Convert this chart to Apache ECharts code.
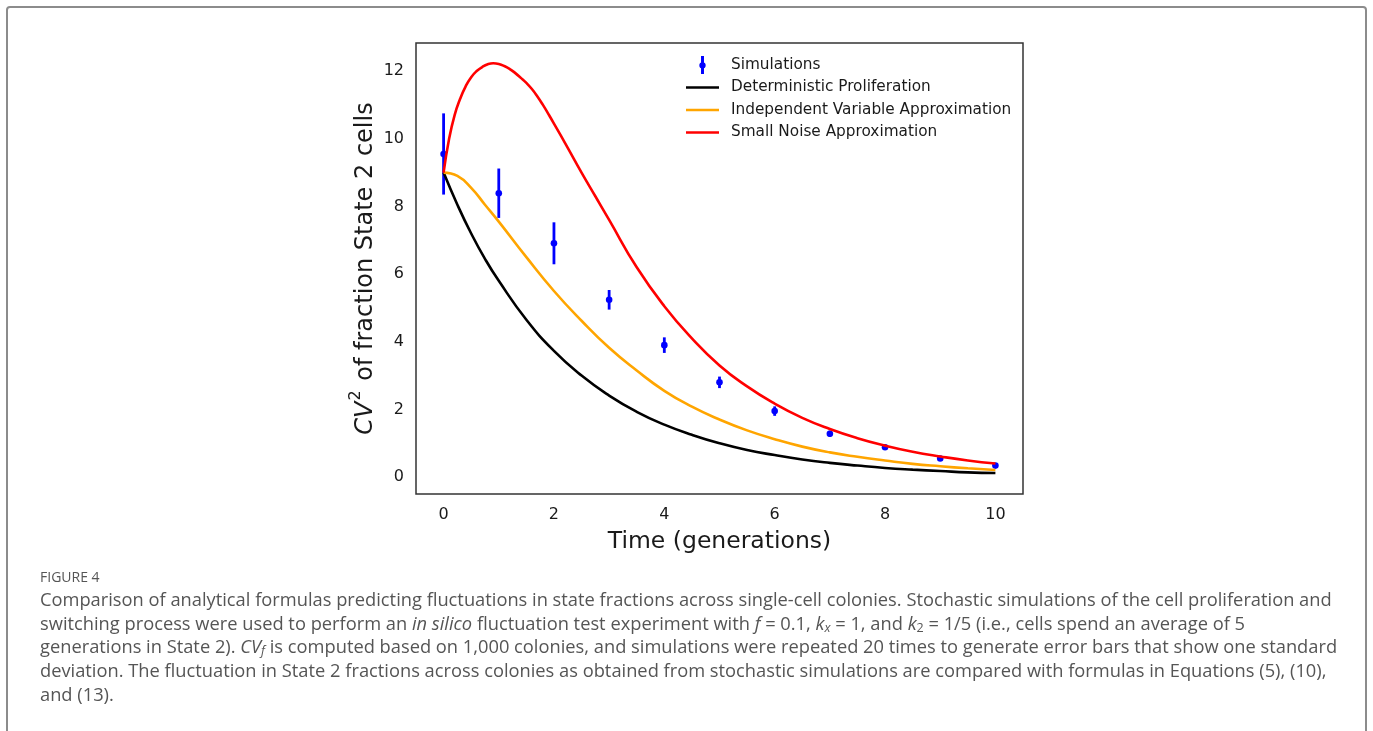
<!DOCTYPE html>
<html>
<head>
<meta charset="utf-8">
<script src="https://cdn.jsdelivr.net/npm/echarts@6/dist/echarts.min.js"></script>
<style>
html,body{margin:0;padding:0;background:#fff;}
#main{width:1373px;height:731px;}
</style>
</head>
<body>
<div id="main"></div>
<script>
// ---- data ----
const xSim = [0, 1, 2, 3, 4, 5, 6, 7, 8, 9, 10];
const ySim = [9.55, 8.39, 6.91, 5.24, 3.90, 2.80, 1.95, 1.28, 0.88, 0.55, 0.34];
const errSim = [1.2, 0.73, 0.62, 0.29, 0.23, 0.17, 0.14, 0.09, 0.06, 0.04, 0.03];

const tCurve = [0, 0.25, 0.5, 0.75, 1, 1.5, 2, 2.5, 3, 3.5, 4, 4.5, 5, 5.5, 6, 6.5, 7, 7.5, 8, 8.5, 9, 9.5, 10];
const yDet = [9.0, 8.05, 7.2, 6.45, 5.8, 4.65, 3.73, 3.0, 2.41, 1.93, 1.55, 1.25, 1.0, 0.8, 0.65, 0.52, 0.42, 0.34, 0.27, 0.22, 0.18, 0.14, 0.12];
const yIndep = [9.0, 8.9, 8.55, 8.05, 7.55, 6.5, 5.5, 4.62, 3.82, 3.15, 2.55, 2.08, 1.7, 1.38, 1.12, 0.9, 0.73, 0.6, 0.49, 0.39, 0.32, 0.26, 0.21];

const tRed = [0, 0.1, 0.2, 0.3, 0.4, 0.5, 0.6, 0.7, 0.8, 0.9, 1.0, 1.1, 1.2, 1.3, 1.4, 1.5, 1.6, 1.7, 1.8, 1.9, 2, 2.25, 2.5, 2.75, 3, 3.5, 4, 4.5, 5, 5.5, 6, 6.5, 7, 7.5, 8, 8.5, 9, 9.5, 10];
const ySmall = [9.0, 10.0, 10.7, 11.18, 11.55, 11.82, 12.0, 12.12, 12.2, 12.23, 12.21, 12.15, 12.06, 11.94, 11.8, 11.65, 11.47, 11.25, 11.0, 10.73, 10.45, 9.73, 9.0, 8.3, 7.6, 6.2, 5.05, 4.1, 3.3, 2.68, 2.17, 1.75, 1.42, 1.15, 0.93, 0.75, 0.61, 0.49, 0.40];

const xTicks = [0, 2, 4, 6, 8, 10];
const yTicks = [0, 2, 4, 6, 8, 10, 12];

const seriesNames = ['Simulations', 'Deterministic Proliferation', 'Independent Variable Approximation', 'Small Noise Approximation'];

// ---- build ----
const zip = (a, b) => a.map((v, i) => [v, b[i]]);
const simData = xSim.map((x, i) => [x, ySim[i], ySim[i] - errSim[i], ySim[i] + errSim[i]]);

const FONT = 'DejaVu Sans';
const chart = echarts.init(document.getElementById('main'), null, {renderer: 'canvas'});

const capFont = 'Open Sans';
const capSize = 18.3;
const capColor = '#555555';
const capRich = {
  it: {fontStyle: 'italic', fontFamily: capFont, fontSize: capSize, color: capColor},
  sub: {fontStyle: 'italic', fontFamily: capFont, fontSize: 12.5, color: capColor, verticalAlign: 'bottom', lineHeight: 14},
  subn: {fontFamily: capFont, fontSize: 12.5, color: capColor, verticalAlign: 'bottom', lineHeight: 14}
};
const captionLines = [
  'Comparison of analytical formulas predicting fluctuations in state fractions across single-cell colonies. Stochastic simulations of the cell proliferation and',
  'switching process were used to perform an {it|in silico} fluctuation test experiment with {it|f} = 0.1, {it|k}{sub|x} = 1, and {it|k}{subn|2} = 1/5 (i.e., cells spend an average of 5',
  'generations in State 2). {it|CV}{sub|f} is computed based on 1,000 colonies, and simulations were repeated 20 times to generate error bars that show one standard',
  'deviation. The fluctuation in State 2 fractions across colonies as obtained from stochastic simulations are compared with formulas in Equations (5), (10),',
  'and (13).'
];
const captionY = [601, 624.5, 648, 672, 696];

const graphics = [
  {type: 'rect', shape: {x: 7, y: 7, width: 1359, height: 760, r: 3}, style: {fill: 'none', stroke: '#8c8c8c', lineWidth: 2}, silent: true},
  {type: 'text', x: 40, y: 578, style: {text: 'FIGURE 4', font: '14px ' + capFont, fill: capColor, verticalAlign: 'middle'}}
];
captionLines.forEach((t, i) => {
  graphics.push({
    type: 'text', x: 40, y: captionY[i],
    style: {text: t, fontFamily: capFont, fontSize: capSize, fill: capColor, verticalAlign: 'middle', rich: capRich, lineHeight: 20}
  });
});

const lineIcon = 'path://M0,0H33V2.6H0Z';
const simIcon = 'path://M2.6,0H5.4V17H2.6Z M4,5.8A3,3,0,1,1,4,11.8A3,3,0,1,1,4,5.8Z';

chart.setOption({
  animation: false,
  backgroundColor: '#ffffff',
  grid: {left: 416, top: 43, width: 607, height: 451, show: true, borderColor: '#333333', borderWidth: 1.5, backgroundColor: '#fff', containLabel: false},
  legend: {
    orient: 'vertical', left: 686, top: 56, padding: 0,
    itemWidth: 33, itemHeight: 18, itemGap: 4.5,
    textStyle: {fontFamily: FONT, fontSize: 15.3, color: '#1a1a1a', lineHeight: 18, padding: [0, 0, 0, 7]},
    data: [
      {name: seriesNames[0], icon: simIcon, itemStyle: {color: '#0000ff'}},
      {name: seriesNames[1], icon: lineIcon},
      {name: seriesNames[2], icon: lineIcon},
      {name: seriesNames[3], icon: lineIcon}
    ]
  },
  xAxis: {
    type: 'value', min: -0.5, max: 10.5,
    name: 'Time (generations)', nameLocation: 'middle', nameGap: 36,
    nameTextStyle: {fontFamily: FONT, fontSize: 23.5, color: '#1a1a1a'},
    axisLine: {show: false}, axisTick: {show: false}, splitLine: {show: false},
    axisLabel: {customValues: xTicks, fontFamily: FONT, fontSize: 16, color: '#1a1a1a', margin: 13}
  },
  yAxis: {
    type: 'value', min: -0.5, max: 12.83,
    name: '{i|CV}{sup|2}{n| of fraction State 2 cells}', nameLocation: 'middle', nameGap: 38, nameRotate: 90,
    nameTextStyle: {fontFamily: FONT, fontSize: 24, color: '#1a1a1a',
      rich: {
        i: {fontFamily: FONT, fontStyle: 'italic', fontSize: 24, color: '#1a1a1a', lineHeight: 30, verticalAlign: 'bottom'},
        n: {fontFamily: FONT, fontSize: 24, color: '#1a1a1a', lineHeight: 30, verticalAlign: 'bottom'},
        sup: {fontFamily: FONT, fontSize: 16, color: '#1a1a1a', lineHeight: 16, verticalAlign: 'top', padding: [0, 2, 0, 1]}
      }},
    axisLine: {show: false}, axisTick: {show: false}, splitLine: {show: false},
    axisLabel: {customValues: yTicks, fontFamily: FONT, fontSize: 16, color: '#1a1a1a', margin: 12}
  },
  graphic: graphics,
  series: [
    {
      name: seriesNames[0], type: 'custom', z: 2,
      itemStyle: {color: '#0000ff'},
      data: simData,
      encode: {x: 0, y: [1, 2, 3]},
      renderItem: function (params, api) {
        const x = api.value(0);
        const lo = api.coord([x, api.value(2)]);
        const hi = api.coord([x, api.value(3)]);
        const c = api.coord([x, api.value(1)]);
        return {
          type: 'group',
          children: [
            {type: 'line', shape: {x1: lo[0], y1: lo[1], x2: hi[0], y2: hi[1]}, style: {stroke: '#0000ff', lineWidth: 2.8}},
            {type: 'circle', shape: {cx: c[0], cy: c[1], r: 3.3}, style: {fill: '#0000ff'}}
          ]
        };
      }
    },
    {
      name: seriesNames[1], type: 'line', z: 3, color: '#000000', smooth: true, showSymbol: false,
      lineStyle: {width: 2.6, color: '#000000'}, data: zip(tCurve, yDet)
    },
    {
      name: seriesNames[2], type: 'line', z: 3, color: '#ffa500', smooth: true, showSymbol: false,
      lineStyle: {width: 2.6, color: '#ffa500'}, data: zip(tCurve, yIndep)
    },
    {
      name: seriesNames[3], type: 'line', z: 3, color: '#ff0000', smooth: true, showSymbol: false,
      lineStyle: {width: 2.6, color: '#ff0000'}, data: zip(tRed, ySmall)
    }
  ]
});
</script>
</body>
</html>
